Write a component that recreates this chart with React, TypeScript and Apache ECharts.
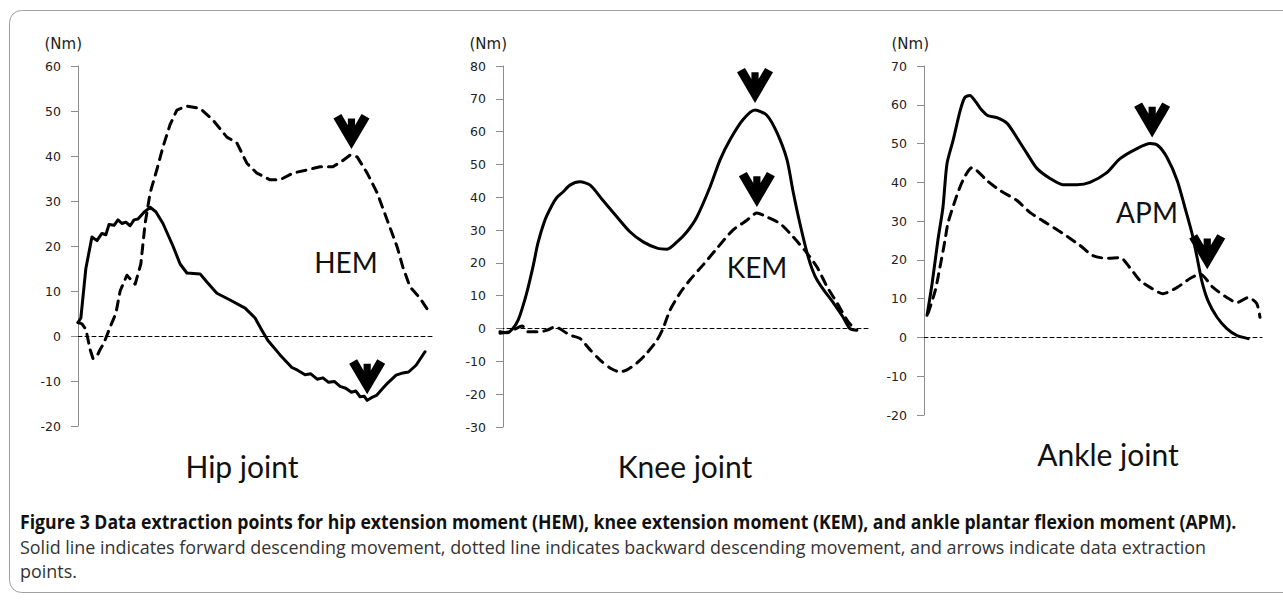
import React, { useEffect, useRef } from "react";
import * as echarts from "echarts";

// x: % of movement, y: moment (Nm)
const hipForward = [
  [0, 3], [0.8, 4], [2.2, 15], [3.9, 22], [5.3, 21.2], [6.7, 22.8], [7.8, 22.5], [8.7, 24.8],
  [10.1, 24.6], [11.2, 25.8], [12.3, 25], [13.4, 25.3], [14.6, 24.5], [15.7, 25.8], [16.8, 26],
  [18.5, 27.5], [20.2, 28.6], [21.8, 27.6], [23.8, 25], [26.6, 20], [28.6, 16], [30.5, 14],
  [34.2, 13.8], [36.1, 12], [38.9, 9.5], [42.6, 8], [46.8, 6.2], [49.6, 4], [51.5, 1.3],
  [53.2, -1], [56.6, -4.2], [59.9, -7], [61.5, -7.6], [63.6, -8.6], [65.2, -8.4], [67, -9.6],
  [68.6, -9.3], [70.2, -10.3], [71.8, -10.1], [73.4, -11.2], [75, -11.6], [76.6, -12.5],
  [77.8, -12.2], [79, -13.5], [80.2, -13.4], [81, -14.3], [82.2, -13.7], [83.6, -13.2],
  [85.2, -11.8], [86.8, -10.4], [89.1, -8.7], [91, -8.2], [92.6, -8], [94.7, -6.5], [97.2, -3.5],
];
const hipBackward = [
  [0, 3], [1.1, 2.7], [2.2, 1.5], [3.4, -3], [4.2, -5], [5.3, -4.5], [6.2, -3], [7.3, -1.5],
  [9, 2], [10.6, 5], [11.8, 10], [13.7, 13.5], [16, 11.5], [17.6, 16], [18.8, 25], [20.2, 31.8],
  [22.1, 37], [23.8, 42], [25.8, 47], [27.7, 50.2], [30.5, 51.1], [34.2, 50.6], [37.8, 48],
  [41.7, 44.2], [44.5, 42.9], [47.3, 38.4], [50.1, 36.2], [53.8, 34.7], [56.6, 34.7],
  [60.2, 36.2], [64.1, 36.9], [67.8, 37.6], [71.4, 37.6], [74.2, 39], [76.2, 40.2], [78.2, 39.8],
  [81, 36.2], [83.8, 31.8], [86.6, 25.8], [89.4, 19.8], [91, 15.3], [93, 10.9], [95.8, 8.4],
  [97.8, 6],
];
const kneeForward = [
  [0, -1], [1.9, -1.3], [3.5, 0], [4.9, 2.5], [6, 6], [7.3, 11], [9, 19], [10.3, 26], [12.2, 33],
  [14.1, 37.5], [15.5, 40], [17.1, 41.6], [19, 43.7], [21.7, 44.7], [24.5, 43.7], [28, 39],
  [31.8, 34], [35.3, 29.5], [38.9, 26.4], [42.7, 24.5], [45.4, 24.2], [48.1, 26.4], [50.8, 29.5],
  [53.5, 34], [57.1, 43.2], [59.8, 51.4], [62.5, 57.5], [66, 63.6], [69.3, 66.6], [72.5, 65],
  [75.3, 59.6], [78, 51.4], [79.6, 42], [81.5, 32], [83.7, 22], [85.6, 16], [87.8, 12],
  [90.5, 8], [93.2, 3.5], [95.1, 0], [97, -0.5],
];
const kneeBackward = [
  [0, -1.4], [2.7, -1], [6, 0.8], [7.6, -1], [10.9, -1], [12.8, -0.5], [14.9, 0.5], [19, -2],
  [21.7, -3], [24.5, -6.5], [27.2, -9.6], [29.9, -12], [32.6, -13.2], [34.5, -12.6],
  [37.2, -10.5], [39.9, -7.5], [42.7, -3.5], [44.3, 0], [46.2, 5.6], [48.9, 10.8], [51.6, 14.8],
  [55.2, 19.4], [59, 24.5], [63.3, 30], [67.1, 33], [69.8, 35.2], [72.5, 34], [76.1, 32],
  [79.6, 28], [83.4, 23], [86.1, 18.8], [88.9, 12.7], [91.6, 7.8], [94.3, 2.6], [96.5, -0.5],
];
const ankleForward = [
  [0.9, 5.7], [2.4, 13.9], [4.1, 25], [5.6, 33.5], [6.8, 44.8], [8.6, 50.8], [10.7, 58.5],
  [12.1, 61.9], [13.6, 62.4], [15.1, 61], [17.2, 58.5], [18.9, 57.2], [21.6, 56.7], [24.6, 55.2],
  [27.5, 51.5], [30.5, 47.4], [33.4, 43.6], [37.3, 41], [41.1, 39.4], [45.3, 39.4], [49.1, 40],
  [54.1, 42.5], [58, 46.1], [63, 48.7], [66.9, 50], [69.2, 49.5], [71.9, 46.4], [74.9, 40.5],
  [77.2, 33.5], [79.3, 26.8], [80.8, 20.6], [82.2, 14.5], [84, 9.5], [86.7, 5.2], [89.6, 2.3],
  [92.6, 0.5], [95.9, -0.3],
];
const ankleBackward = [
  [1.2, 6.2], [3.3, 12], [4.7, 18], [6.2, 25], [7.1, 29.5], [9.2, 35.3], [11.5, 40.5],
  [14.2, 43.8], [15.7, 43], [18.6, 40.5], [22.5, 37.9], [27.5, 35.3], [31.4, 32.2], [36.4, 29.4],
  [41.1, 26.8], [46.2, 23.7], [50, 21.1], [54.1, 20.4], [58, 20.6], [60.9, 18], [63.9, 14.7],
  [66.9, 12.9], [70.7, 11.3], [74.9, 12.9], [78.7, 15.2], [81.7, 16.3], [85.5, 12.9],
  [89.6, 10.3], [92.6, 9], [95.9, 10.3], [98.4, 8.8], [99.4, 5.2],
];

// data extraction points (arrows)
const hipForwardPoints = [[81, -14.3]];
const hipBackwardPoints = [[76.6, 40.2]];
const kneeForwardPoints = [[69.3, 66.6]];
const kneeBackwardPoints = [[69.8, 35.2]];
const ankleForwardPoints = [[67.5, 50]];
const ankleBackwardPoints = [[83.8, 15]];

const panelTitles = ["Hip joint", "Knee joint", "Ankle joint"];
const momentLabels = ["HEM", "KEM", "APM"];
const yRanges = [[-20, 60], [-30, 80], [-20, 70]];
const unitLabel = "(Nm)";
const captionBold =
  "Figure 3 Data extraction points for hip extension moment (HEM), knee extension moment (KEM), and ankle plantar flexion moment (APM).";
const captionLine2 =
  "Solid line indicates forward descending movement, dotted line indicates backward descending movement, and arrows indicate data extraction";
const captionLine3 = "points.";

const ARROW =
  "path://M0,14 L22,2 L40,33 L40,14 L60,14 L60,33 L78,2 L100,14 L50,100 Z";

export default function App() {
  const ref = useRef<HTMLDivElement>(null);

  useEffect(() => {
    if (!ref.current) return;
    const chart = echarts.init(ref.current, null, { renderer: "svg" });

    const grids = [
      { left: 78, top: 66, width: 357, height: 360 },
      { left: 500, top: 66, width: 368, height: 361 },
      { left: 924, top: 66, width: 338, height: 349 },
    ];
    const yOffsets = [0, -3, 0];
    const smooths = [false, 0.25, 0.25];
    const seriesData = [
      [hipForward, hipBackward, hipForwardPoints, hipBackwardPoints, [6, 6]],
      [kneeForward, kneeBackward, kneeForwardPoints, kneeBackwardPoints, [7, 6]],
      [ankleForward, ankleBackward, ankleForwardPoints, ankleBackwardPoints, [6, 10]],
    ] as any[];

    const mk = (pts: number[][], gap: number) => ({
      symbol: ARROW,
      symbolSize: [36, 35],
      symbolOffset: [0, -(17.5 + gap)],
      symbolKeepAspect: false,
      itemStyle: { color: "#000" },
      label: { show: false },
      silent: true,
      data: pts.map((p) => ({ coord: p })),
    });

    const series: any[] = [];
    seriesData.forEach((d, i) => {
      series.push({
        type: "line",
        xAxisIndex: i,
        yAxisIndex: i,
        data: d[0],
        showSymbol: false,
        smooth: smooths[i],
        silent: true,
        lineStyle: { color: "#000", width: 3, cap: "round", join: "round" },
        markPoint: d[2].length ? mk(d[2], d[4][0]) : undefined,
        z: 3,
      });
      series.push({
        type: "line",
        xAxisIndex: i,
        yAxisIndex: i,
        data: d[1],
        showSymbol: false,
        smooth: smooths[i],
        silent: true,
        lineStyle: { color: "#000", width: 3, type: [9, 7], cap: "round", join: "round" },
        markPoint: d[3].length ? mk(d[3], d[4][1]) : undefined,
        z: 3,
      });
    });

    const titlePos = [
      [242, 466],
      [685, 466],
      [1108, 454],
    ];
    const momentPos = [
      [346, 262],
      [757, 267],
      [1147, 212],
    ];
    const unitPos = [
      [82, 44],
      [507, 44],
      [929, 44],
    ];

    const graphic: any[] = [
      {
        type: "rect",
        shape: { x: 9.5, y: 10.5, width: 1300, height: 582, r: 12 },
        style: { fill: "none", stroke: "#a0a0a0", lineWidth: 1 },
        silent: true,
      },
    ];
    panelTitles.forEach((t, i) => {
      graphic.push({
        type: "text",
        x: titlePos[i][0],
        y: titlePos[i][1],
        style: {
          text: t,
          font: "30px Lato",
          fill: "#111",
          textAlign: "center",
          textVerticalAlign: "middle",
        },
      });
      graphic.push({
        type: "text",
        x: momentPos[i][0],
        y: momentPos[i][1],
        style: {
          text: momentLabels[i],
          font: "28px Lato",
          fill: "#111",
          textAlign: "center",
          textVerticalAlign: "middle",
        },
      });
      graphic.push({
        type: "text",
        x: unitPos[i][0],
        y: unitPos[i][1],
        style: {
          text: unitLabel,
          font: "15px 'DejaVu Sans'",
          fill: "#222",
          textAlign: "right",
          textVerticalAlign: "middle",
        },
      });
    });
    graphic.push({
      type: "text",
      x: 20,
      y: 521,
      scaleX: 0.93,
      style: {
        text: captionBold,
        font: "bold 19px 'Open Sans'",
        fill: "#111",
        textAlign: "left",
        textVerticalAlign: "middle",
      },
    });
    graphic.push({
      type: "text",
      x: 20,
      y: 546,
      scaleX: 0.944,
      style: {
        text: captionLine2,
        font: "19px 'Open Sans'",
        fill: "#333",
        textAlign: "left",
        textVerticalAlign: "middle",
      },
    });
    graphic.push({
      type: "text",
      x: 20,
      y: 570,
      scaleX: 0.944,
      style: {
        text: captionLine3,
        font: "19px 'Open Sans'",
        fill: "#333",
        textAlign: "left",
        textVerticalAlign: "middle",
      },
    });

    chart.setOption({
      animation: false,
      backgroundColor: "#fff",
      grid: grids,
      xAxis: grids.map((_, i) => ({
        gridIndex: i,
        type: "value",
        min: 0,
        max: 100,
        axisLine: {
          show: true,
          onZero: true,
          lineStyle: { color: "#000", width: 1, type: [4, 3] },
        },
        axisTick: { show: false },
        axisLabel: { show: false },
        splitLine: { show: false },
      })),
      yAxis: grids.map((_, i) => ({
        gridIndex: i,
        type: "value",
        min: yRanges[i][0],
        max: yRanges[i][1],
        interval: 10,
        offset: yOffsets[i],
        axisLine: { show: true, onZero: false, lineStyle: { color: "#8c8c8c", width: 1 } },
        axisTick: { show: true, length: 7, lineStyle: { color: "#8c8c8c" } },
        axisLabel: {
          color: "#222",
          fontSize: 12.5,
          fontFamily: "'DejaVu Sans'",
          margin: 17,
        },
        splitLine: { show: false },
      })),
      series,
      graphic,
    });

    return () => chart.dispose();
  }, []);

  return (
    <div
      ref={ref}
      style={{ position: "absolute", left: 0, top: 0, width: 1283, height: 600 }}
    />
  );
}
